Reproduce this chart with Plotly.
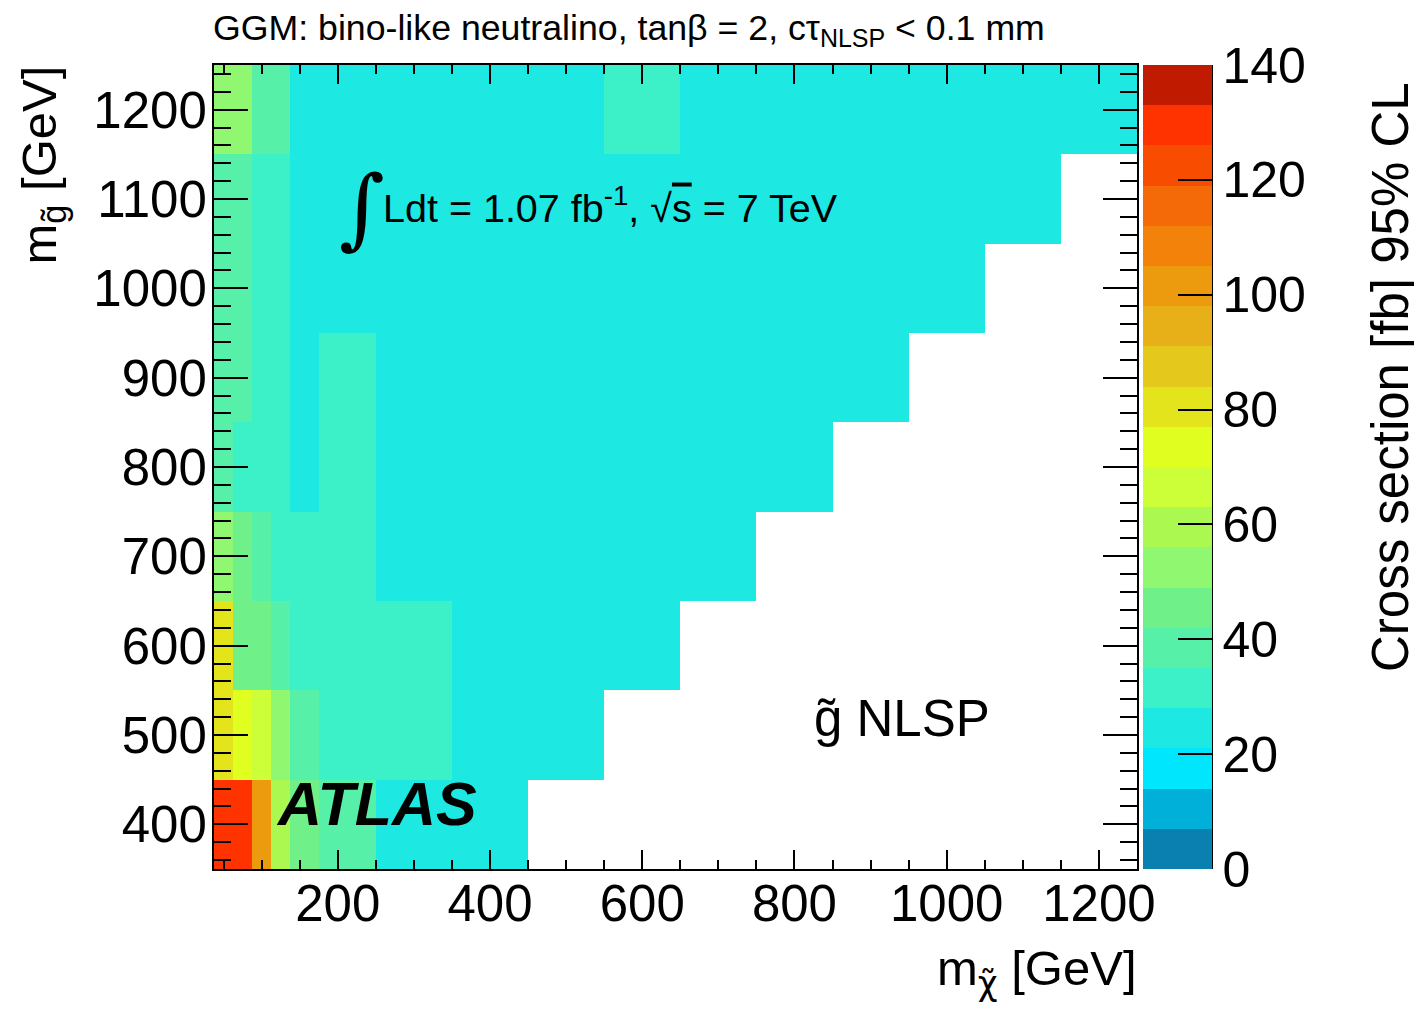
import plotly.graph_objects as go

# ---------------- data ----------------
m_chi = [50, 75, 100, 125, 150, 200, 300, 400, 500, 600, 700, 800, 900, 1000, 1100, 1200]
m_gluino = [400, 500, 600, 700, 800, 900, 1000, 1100, 1200]
N = None
xsec_400 = [130, 130, 101, 59, 45, 38, 25, 25, N, N, N, N, N, N, N, N]
xsec_500 = [80, 73, 66, 52, 38, 31, 31, 25, 25, N, N, N, N, N, N, N]
xsec_600 = [80, 45, 45, 38, 31, 31, 31, 25, 25, 25, N, N, N, N, N, N]
xsec_700 = [52, 45, 38, 31, 31, 31, 25, 25, 25, 25, 25, N, N, N, N, N]
xsec_800 = [38, 31, 31, 31, 25, 31, 25, 25, 25, 25, 25, 25, N, N, N, N]
xsec_900 = [38, 38, 31, 31, 25, 31, 25, 25, 25, 25, 25, 25, 25, N, N, N]
xsec_1000 = [38, 38, 31, 31, 25, 25, 25, 25, 25, 25, 25, 25, 25, 25, N, N]
xsec_1100 = [38, 38, 31, 31, 25, 25, 25, 25, 25, 25, 25, 25, 25, 25, 25, N]
xsec_1200 = [52, 52, 38, 38, 25, 25, 25, 25, 25, 31, 25, 25, 25, 25, 25, 25]

z_rows = [xsec_400, xsec_500, xsec_600, xsec_700, xsec_800,
          xsec_900, xsec_1000, xsec_1100, xsec_1200]

x_ticks = [200, 400, 600, 800, 1000, 1200]
y_ticks = [400, 500, 600, 700, 800, 900, 1000, 1100, 1200]
z_ticks = [0, 20, 40, 60, 80, 100, 120, 140]

# 20-level palette (0..140 fb)
palette = ["#0a80b0", "#00b0d8", "#00e6fc", "#1ee8e2", "#3cf0c8",
           "#56f0a8", "#70f088", "#90f870", "#aaf850", "#ccff38",
           "#e0ff20", "#e4e41c", "#e4c81c", "#e8b018", "#ec9a0e",
           "#f2820a", "#f56a08", "#f84c00", "#ff3300", "#c01a00"]

colorscale = []
n = len(palette)
for i, c in enumerate(palette):
    colorscale.append([i / n, c])
    colorscale.append([(i + 1) / n, c])

FONT = "Liberation Sans, Arial, Helvetica, sans-serif"

# page offset (body margin of the html page)
OFF = 8
# plot area in page pixels
L, R, T, B = 214, 1137, 65, 869
W, H = 1422 - OFF, 1011 - OFF


def px_x(px):
    return (px - L) / (R - L)


def px_y(py):
    return (B - py) / (B - T)


fig = go.Figure()
fig.add_trace(go.Heatmap(
    x=m_chi, y=m_gluino, z=z_rows,
    zmin=0, zmax=140, colorscale=colorscale,
    hoverongaps=False,
    colorbar=dict(
        thickness=69, thicknessmode="pixels",
        len=1, lenmode="fraction",
        x=px_x(1143), xanchor="left", xpad=0,
        y=0.5, yanchor="middle", ypad=0,
        outlinewidth=0,
        tickvals=z_ticks, ticks="inside", ticklen=34, tickwidth=2,
        tickcolor="black",
        tickfont=dict(family=FONT, size=50, color="black"),
    ),
))

axis_common = dict(
    showline=True, linecolor="black", linewidth=2, mirror="ticks",
    ticks="inside", tickcolor="black", tickwidth=2,
    showgrid=False, zeroline=False,
    tickfont=dict(family=FONT, size=51, color="black"),
)

fig.update_xaxes(
    range=[37.5, 1250], tickvals=x_ticks, ticklen=19,
    ticklabelstandoff=-11,
    minor=dict(ticks="inside", dtick=50, tick0=0, ticklen=9, tickwidth=2,
               tickcolor="black", showgrid=False),
    **axis_common,
)
fig.update_yaxes(
    range=[350, 1250], tickvals=y_ticks, ticklen=34,
    ticklabelstandoff=-5,
    minor=dict(ticks="inside", dtick=20, tick0=0, ticklen=17, tickwidth=2,
               tickcolor="black", showgrid=False),
    **axis_common,
)

# colorbar axis line on the right
fig.add_shape(type="line", xref="paper", yref="paper",
              x0=px_x(1212), x1=px_x(1212), y0=0, y1=1,
              line=dict(color="black", width=2))

ann = []
ann.append(dict(
    text="GGM: bino-like neutralino, tanβ = 2, cτ<sub>NLSP</sub> < 0.1 mm",
    x=px_x(211), y=px_y(30), xanchor="left", yanchor="middle",
    font=dict(family=FONT, size=35.7, color="black")))
ann.append(dict(
    text="∫", x=px_x(362), y=px_y(207), xanchor="center", yanchor="middle",
    font=dict(family="DejaVu Serif, Liberation Serif, serif", size=88, color="black")))
ann.append(dict(
    text="Ldt = 1.07 fb<sup>-1</sup>, √<span style='text-decoration:overline'>s</span> = 7 TeV",
    x=px_x(381), y=px_y(205), xanchor="left", yanchor="middle",
    font=dict(family=FONT, size=39.5, color="black")))
ann.append(dict(
    text="<b><i>ATLAS</i></b>", x=px_x(274), y=px_y(804),
    xanchor="left", yanchor="middle",
    font=dict(family=FONT, size=61, color="black")))
ann.append(dict(
    text="g̃ NLSP", x=px_x(812), y=px_y(718),
    xanchor="left", yanchor="middle",
    font=dict(family=FONT, size=51, color="black")))
ann.append(dict(
    text="m<sub>g̃</sub> [GeV]", x=px_x(42), y=px_y(64),
    xanchor="center", yanchor="top", textangle=-90,
    font=dict(family=FONT, size=49, color="black")))
ann.append(dict(
    text="m<sub><span style='font-family:DejaVu Sans'>χ̃</span></sub> [GeV]",
    x=px_x(1139), y=px_y(972),
    xanchor="right", yanchor="middle",
    font=dict(family=FONT, size=49, color="black")))
ann.append(dict(
    text="Cross section [fb] 95% CL", x=px_x(1390), y=px_y(80),
    xanchor="center", yanchor="top", textangle=-90,
    font=dict(family=FONT, size=51, color="black")))

for a in ann:
    a.update(xref="paper", yref="paper", showarrow=False)

fig.update_layout(
    width=W, height=H,
    margin=dict(l=L - OFF, r=W - (R - OFF), t=T - OFF, b=H - (B - OFF), pad=0),
    paper_bgcolor="white", plot_bgcolor="white",
    annotations=ann,
    font=dict(family=FONT, color="black"),
)

fig.write_html("out.html")
